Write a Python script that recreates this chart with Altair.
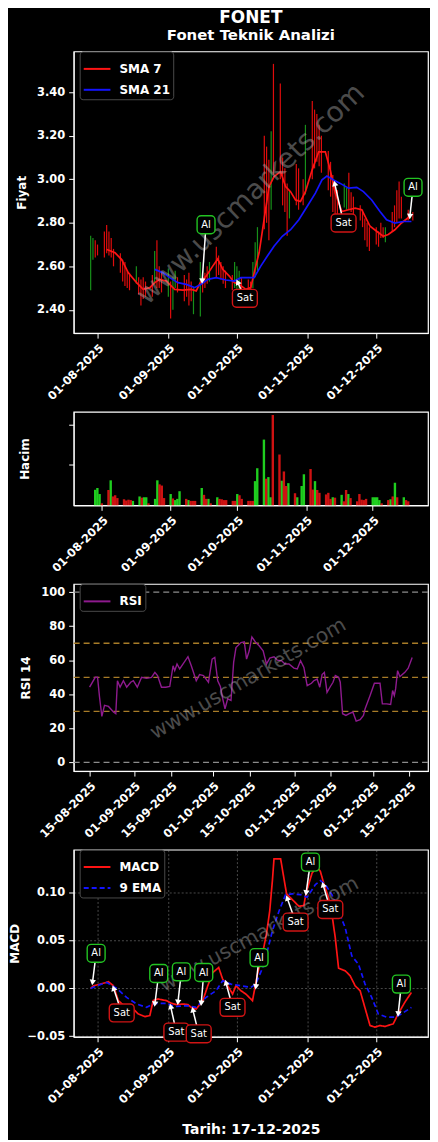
import math
import altair as alt
import pandas as pd

FONT = "DejaVu Sans"

# ---------------- data ----------------
trade_days = [d for d in pd.bdate_range("2025-07-29", "2025-12-17") if d != pd.Timestamp("2025-10-29")]

price_low = [2.49,2.63,2.64,2.65,2.64,2.66,2.65,2.64,2.60,2.57,
             2.53,2.51,2.50,2.49,2.52,2.47,2.42,2.45,2.46,2.46,
             2.52,2.50,2.50,2.48,2.46,2.36,2.40,2.50,2.48,2.44,
             2.46,2.42,2.44,2.38,2.37,2.48,2.50,2.52,2.53,2.55,
             2.56,2.54,2.52,2.50,2.49,2.50,2.48,2.49,2.47,2.47,
             2.46,2.50,2.55,2.58,2.77,2.80,2.72,2.86,3.02,3.00,
             2.88,2.85,2.74,2.82,2.88,2.86,2.88,2.93,3.00,3.05,
             3.08,3.06,3.03,2.95,2.92,2.85,2.84,2.83,2.87,2.86,
             2.86,2.85,2.78,2.81,2.78,2.72,2.69,2.67,2.70,2.69,
             2.73,2.73,2.71,2.76,2.78,2.80,2.82,2.82,2.81,2.82,
             2.81]
price_high = [2.74,2.73,2.72,2.70,2.76,2.79,2.76,2.73,2.68,2.66,
              2.63,2.62,2.58,2.57,2.60,2.55,2.54,2.55,2.53,2.56,
              2.67,2.72,2.60,2.58,2.59,2.53,2.55,2.58,2.55,2.56,
              2.54,2.57,2.53,2.50,2.62,2.55,2.57,2.60,2.62,2.69,
              2.65,2.62,2.60,2.58,2.56,2.62,2.60,2.58,2.55,2.54,
              2.53,2.62,2.71,2.78,3.20,3.15,3.09,3.22,3.53,3.44,
              3.10,3.05,2.98,2.95,3.07,3.05,3.00,3.25,3.36,3.32,
              3.30,3.25,3.20,3.13,3.08,3.02,2.97,2.95,2.98,2.96,
              3.03,2.94,2.92,2.88,2.86,2.82,2.80,2.78,2.78,2.76,
              2.80,2.78,2.78,2.85,2.88,2.95,2.99,2.92,2.86,2.86,
              2.85]
price_up = [1,1,0,0,0,0,0,0,0,0,
            0,0,0,0,1,0,0,0,0,0,
            1,0,0,0,1,0,1,1,0,0,
            0,0,0,1,1,0,0,0,1,0,
            0,0,0,0,0,1,1,1,0,0,
            0,1,1,1,0,0,0,1,0,0,
            0,0,0,1,0,0,0,1,0,0,
            0,0,0,0,0,0,0,0,1,1,
            0,0,0,0,0,0,0,0,0,0,
            0,0,1,0,0,0,0,0,0,1,
            0]
volume = [0.385,0.43,0.28,0.05,0.38,0.62,0.22,0.25,0.18,0.15,
          0.12,0.14,0.13,0.11,0.22,0.19,0.2,0.2,0.05,0.16,
          0.62,0.52,0.49,0.18,0.28,0.17,0.13,0.16,0.35,0.16,
          0.13,0.11,0.11,0.11,0.43,0.26,0.16,0.16,0.05,0.2,
          0.16,0.15,0.13,0.13,0.11,0.11,0.28,0.25,0.16,0.11,
          0.11,0.11,0.6,0.92,1.63,0.66,0.7,0.2,2.24,1.26,
          0.61,0.84,0.48,0.55,0.3,0.2,0.48,0.77,0.9,0.39,
          0.6,0.38,0.31,0.27,0.31,0.16,0.2,0.19,0.26,0.1,
          0.38,0.28,0.18,0.1,0.28,0.14,0.13,0.16,0.2,0.2,
          0.2,0.13,0.05,0.13,0.15,0.22,0.56,0.2,0.2,0.13,
          0.1]
volume_up = [1,1,1,0,0,1,0,0,0,0,
             0,0,0,1,1,0,1,1,0,1,
             1,0,0,0,1,0,1,1,1,0,
             1,0,0,0,1,0,0,1,0,1,
             0,0,0,0,0,0,1,0,0,0,
             0,0,1,1,1,0,1,1,0,0,
             1,0,0,1,0,1,1,1,0,0,
             1,0,0,0,0,0,1,0,1,0,
             0,1,0,0,0,0,0,0,1,1,
             1,1,0,0,1,0,1,0,1,0,
             0]

# days counted from 01-08-2025
sma7_day = [4.06,7.68,10.58,13.48,17.10,20.0,22.9,25.07,27.25,30.14,33.77,37.39,41.01,43.19,45.36,47.54,
            50.43,52.61,54.78,57.68,59.86,62.03,64.93,67.10,68.55,70.72,72.9,75.07,77.25,80.14,82.32,84.49,
            86.67,88.84,91.01,93.91,96.81,99.71,101.88,104.06,106.96,109.86,112.75,115.65,119.28,122.17,
            125.07,127.25,130.14,133.04,136.67]
sma7_val = [2.677,2.662,2.631,2.570,2.525,2.494,2.502,2.525,2.540,2.532,2.494,2.491,2.494,2.487,2.532,2.555,
            2.601,2.634,2.586,2.555,2.525,2.517,2.494,2.502,2.570,2.662,2.814,2.966,3.012,3.035,2.966,2.943,
            2.905,2.898,2.943,3.042,3.126,3.126,3.042,2.936,2.852,2.860,2.867,2.860,2.784,2.761,
            2.738,2.746,2.768,2.799,2.829]
sma21_day = [25.07,28.70,31.59,35.22,38.84,42.46,45.36,48.26,51.88,56.23,59.86,62.75,66.38,68.55,71.45,
             74.35,77.25,80.87,84.49,88.12,91.74,95.36,98.26,100.43,103.33,106.23,109.86,113.48,116.38,
             120.0,123.62,126.52,130.14,133.77,137.39]
sma21_val = [2.586,2.570,2.548,2.525,2.517,2.502,2.517,2.540,2.548,2.537,2.532,2.548,2.548,2.548,2.601,
             2.647,2.692,2.738,2.768,2.814,2.875,2.936,2.997,3.015,2.997,2.981,2.959,2.963,2.943,
             2.905,2.852,2.814,2.799,2.806,2.806]

# days counted from 15-08-2025
rsi_day = [0,2.16,3.04,3.80,4.68,5.69,7.21,9.10,9.99,10.62,
           11.63,12.89,14.15,15.67,16.68,18.19,19.84,21.73,23.62,24.89,
           25.90,27.41,29.05,30.57,31.83,32.46,33.34,34.36,37.51,38.78,
           40.67,41.93,43.43,45.33,46.72,47.73,48.86,49.87,50.76,51.64,
           52.66,53.92,54.93,55.82,57.71,58.98,59.86,60.87,61.88,63.40,
           64.66,66.17,67.44,68.70,70.34,71.60,73.24,74.51,76.02,77.92,
           79.19,80.45,81.71,82.97,84.61,85.49,86.76,87.77,88.65,89.53,
           90.54,91.81,92.82,93.70,94.96,95.59,96.47,97.74,99.00,100.39,
           101.65,103.17,104.43,105.06,106.96,108.60,110.74,111.63,113.28,114.79,
           115.55,116.19,116.69,117.44,118.33,120.22,121.48,123.00]
rsi_val = [44.2,50,50,38.3,27.0,33.5,32.9,29.6,28.6,48,
           44.2,48,44.2,47.1,48,44.2,50,49.4,50,52.9,
           51,44.2,44.2,44.6,56.8,53.9,57.8,54.9,62.1,56.8,
           48,51.6,51,47.1,60.7,61.7,48,44.6,37.4,31.5,
           37.4,36.4,58.8,67.5,70.4,70.8,60.7,65.6,73.7,70.4,
           68.5,65.6,57.8,61.3,62.1,60.1,59.7,57.8,57.8,55.4,
           54.9,59.7,55.8,45.1,46.5,48,49,44.2,51.6,52.9,
           41.2,44.6,47.1,51,50,47.1,28.6,27.6,28.6,29.6,
           24.3,25.1,27.6,31.5,39.3,46.5,46.5,34.4,34.4,34,
           42.2,39.3,43.2,53.9,50.4,52.9,55.4,61.7]

# days counted from 01-08-2025
macd_day = [-3.0,-1.74,1.16,4.78,6.96,9.13,12.03,14.93,17.83,20.72,
            22.90,24.35,26.52,27.97,30.14,32.32,34.49,37.39,39.57,41.01,
            43.19,46.09,48.26,50.43,53.04,54.78,56.96,59.13,60.58,62.75,
            64.93,67.83,70.0,72.17,73.91,75.36,76.52,77.25,80.14,81.59,
            82.75,85.22,88.12,90.29,91.30,93.91,96.09,97.54,98.99,101.16,
            102.61,104.06,105.51,108.41,110.58,112.75,114.93,116.38,119.28,121.45,
            123.62,125.80,127.97,129.42,131.59,134.49,137.39]
macd_val = [0,0.0028,0.0045,0.0069,0.0028,-0.0128,-0.019,-0.0198,-0.0267,-0.0295,
            -0.0284,-0.0128,-0.011,-0.0118,-0.0128,-0.0156,-0.017,-0.0163,-0.017,-0.0198,
            -0.0215,-0.0128,0.0028,0.0166,0.0218,0.0097,0.0028,-0.0059,0.0028,-0.0024,
            -0.0059,-0.0128,0.0149,0.0357,0.0565,0.0807,0.112,0.1355,0.1355,0.115,
            0.0988,0.0929,0.0859,0.0866,0.0998,0.1206,0.1275,0.1223,0.110,0.0946,
            0.0773,0.053,0.0211,0.0184,0.0132,0.0028,-0.0024,-0.0146,-0.0388,-0.0405,
            -0.0388,-0.0398,-0.0381,-0.0371,-0.0267,-0.0146,-0.0042]
signal_day = [-3.0,-0.29,4.06,8.41,12.75,17.10,21.45,25.07,30.14,33.77,
              38.84,43.19,47.54,51.88,54.78,58.41,62.75,67.10,69.28,72.90,
              76.52,79.42,82.32,85.22,88.84,91.74,95.36,97.54,99.71,102.61,
              105.51,108.41,111.30,114.20,117.10,120.0,122.90,126.52,130.14,133.04,
              137.39]
signal_val = [0,0.0028,0.0062,0,-0.0094,-0.0163,-0.0198,-0.0156,-0.0156,-0.019,
              -0.018,-0.0198,-0.0094,-0.0024,0.008,0.0045,0.0028,0.001,0.0045,0.0253,
              0.06,0.0807,0.098,0.0988,0.098,0.0953,0.1085,0.1126,0.1085,0.098,
              0.0807,0.0634,0.034,0.0253,0.0045,-0.0094,-0.0267,-0.0301,-0.0301,-0.0267,
              -0.0198]

# signal annotations: label, box (day, value), arrow tip (day, value)
price_note_kind = ["Al", "Sat", "Sat", "Al"]
price_note_bday = [47.5, 64.5, 107.7, 138.1]
price_note_bval = [2.791, 2.453, 2.799, 2.963]
price_note_tday = [45.8, 61.3, 103.8, 136.7]
price_note_tval = [2.532, 2.528, 2.981, 2.829]

macd_note_kind = ["Al", "Sat", "Al", "Al", "Al", "Sat", "Sat", "Sat", "Al", "Sat", "Al", "Sat", "Al"]
macd_note_bday = [-0.6, 10.6, 26.8, 36.7, 46.5, 34.5, 44.3, 59.1, 70.7, 86.7, 93.2, 101.9, 133.0]
macd_note_bval = [0.0367, -0.0256, 0.0156, 0.0173, 0.0166, -0.0457, -0.0475, -0.0198, 0.0322, 0.0693, 0.132, 0.0825, 0.0045]
macd_note_tday = [-2.2, 7.0, 25.1, 35.2, 45.4, 32.0, 41.7, 56.2, 69.3, 83.0, 91.3, 98.7, 131.6]
macd_note_tval = [0.0062, 0.0003, -0.0163, -0.0146, -0.0156, -0.0187, -0.0222, 0.0062, 0.0017, 0.0946, 0.0998, 0.1085, -0.0267]

WATERMARK = "www.uscmarkets.com"

# ---------------- layout ----------------
W = 356
H1, H2, H3, H4 = 283, 94, 188, 188
AUG1 = pd.Timestamp("2025-08-01")
AUG15 = pd.Timestamp("2025-08-15")
X_START, X_END = pd.Timestamp("2025-07-21 13:40"), pd.Timestamp("2025-12-23 15:40")
R_START, R_END = pd.Timestamp("2025-08-08 22:30"), pd.Timestamp("2025-12-22 01:00")
Y1 = (2.293, 3.587)
Y2 = (0, 2.32)
Y3 = (-5.08, 104.85)
Y4 = (-0.0506, 0.145)


def on(base, days):
    return [base + pd.Timedelta(days=float(d)) for d in days]


def dt(ts):
    return alt.DateTime(year=ts.year, month=ts.month, date=ts.day, hours=ts.hour, minutes=ts.minute)


def x_axis(values, title=None, grid=False):
    kw = dict(values=[dt(pd.Timestamp(v)) for v in values], format="%d-%m-%Y", labelAngle=315,
              labelAlign="right", labelBaseline="top", labelOverlap=False, labelFlush=False,
              title=title, grid=grid)
    if grid:
        kw.update(gridColor="#9a9a9a", gridDash=[2, 2], gridWidth=0.6, gridOpacity=0.8)
    if title:
        kw.update(titleFontSize=14, titlePadding=17)
    return alt.Axis(**kw)


def y_axis(title, tx, values, fmt=None, labels=True, grid=False):
    kw = dict(values=values, title=title, titleX=tx, titleAngle=270, titleAlign="center",
              titleBaseline="middle", labels=labels, grid=grid)
    if fmt:
        kw["format"] = fmt
    if grid:
        kw.update(gridColor="#9a9a9a", gridDash=[2, 2], gridWidth=0.6, gridOpacity=0.8)
    return alt.Axis(**kw)


def legend():
    return alt.Legend(orient="none", legendX=6, legendY=0, title=None, fillColor="black", strokeColor="#4a4a4a",
                      padding=3, cornerRadius=3, labelColor="white", labelFont=FONT, labelFontSize=12,
                      labelFontWeight="bold", symbolType="stroke", symbolStrokeWidth=2, symbolSize=720,
                      rowPadding=0, labelOffset=8)


month_ticks = ["2025-08-01", "2025-09-01", "2025-10-01", "2025-11-01", "2025-12-01"]
half_ticks = ["2025-08-15", "2025-09-01", "2025-09-15", "2025-10-01", "2025-10-15",
              "2025-11-01", "2025-11-15", "2025-12-01", "2025-12-15"]

xs_main = alt.Scale(domain=[dt(X_START), dt(X_END)], nice=False)
xs_rsi = alt.Scale(domain=[dt(R_START), dt(R_END)], nice=False)
px_per_day = W / ((X_END - X_START).total_seconds() / 86400)


def notes(kind, bday, bval, tday, tval, xs, ys, XA, YA, sy):
    rows = []
    for k, bd, bv, td, tv in zip(kind, bday, bval, tday, tval):
        dx = (td - bd) * px_per_day
        dy = -(tv - bv) * sy
        ang = math.degrees(math.atan2(dx, -dy)) % 360
        rows.append(dict(kind=k, bx=AUG1 + pd.Timedelta(days=bd), by=bv,
                         tx=AUG1 + pd.Timedelta(days=td), ty=tv, ang=ang))
    df = pd.DataFrame(rows)
    X = lambda f: alt.X(f + ":T", scale=xs, axis=XA)
    Y = lambda f: alt.Y(f + ":Q", scale=ys, axis=YA)
    layers = [
        alt.Chart(df).mark_rule(color="white", strokeWidth=1.5).encode(x=X("bx"), y=Y("by"), x2="tx:T", y2="ty:Q"),
        alt.Chart(df).mark_point(shape="triangle-up", filled=True, color="white", opacity=1, size=40)
        .encode(x=X("tx"), y=Y("ty"), angle=alt.Angle("ang:Q", scale=None)),
    ]
    for k, half_w, col in (("Al", 9, "#22c322"), ("Sat", 12.5, "#d01414")):
        sub = df[df.kind == k]
        if len(sub):
            layers.append(alt.Chart(sub).mark_rect(fill="black", stroke=col, strokeWidth=1.4, cornerRadius=4,
                                                   xOffset=-half_w, x2Offset=half_w, yOffset=-9, y2Offset=9)
                          .encode(x=X("bx"), x2="bx:T", y=Y("by"), y2="by:Q"))
    layers.append(alt.Chart(df).mark_text(color="white", fontSize=10, font=FONT, align="center", baseline="middle")
                  .encode(x=X("bx"), y=Y("by"), text="kind:N"))
    return layers


def watermark(date, val, xs, ys, XA, YA, size, angle):
    df = pd.DataFrame({"d": [date], "v": [val]})
    return alt.Chart(df).mark_text(text=WATERMARK, font=FONT, fontSize=size, angle=angle, color="#b4b4b4",
                                   opacity=0.42, align="center", baseline="middle").encode(
        x=alt.X("d:T", scale=xs, axis=XA), y=alt.Y("v:Q", scale=ys, axis=YA))


# ---------------- panel 1: price ----------------
price = pd.DataFrame({"date": trade_days, "low": price_low, "high": price_high, "up": price_up})
XA1 = x_axis(month_ticks)
ys1 = alt.Scale(domain=list(Y1), nice=False, zero=False)
YA1 = y_axis("Fiyat", -52, [2.4, 2.6, 2.8, 3.0, 3.2, 3.4], ".2f")
rules_up = alt.Chart(price[price.up == 1]).mark_rule(color="#17901a", strokeWidth=1.2).encode(
    x=alt.X("date:T", scale=xs_main, axis=XA1), y=alt.Y("low:Q", scale=ys1, axis=YA1), y2="high:Q")
rules_dn = alt.Chart(price[price.up == 0]).mark_rule(color="#e00c0c", strokeWidth=1.2).encode(
    x=alt.X("date:T", scale=xs_main, axis=XA1), y=alt.Y("low:Q", scale=ys1, axis=YA1), y2="high:Q")
sma = pd.concat([
    pd.DataFrame({"date": on(AUG1, sma7_day), "v": sma7_val, "s": "SMA 7"}),
    pd.DataFrame({"date": on(AUG1, sma21_day), "v": sma21_val, "s": "SMA 21"}),
])
sma_lines = alt.Chart(sma).mark_line(strokeWidth=1.7).encode(
    x=alt.X("date:T", scale=xs_main, axis=XA1), y=alt.Y("v:Q", scale=ys1, axis=YA1),
    color=alt.Color("s:N", scale=alt.Scale(domain=["SMA 7", "SMA 21"], range=["#ff1414", "#1414ff"]), legend=legend()))
p1 = alt.layer(
    rules_up, rules_dn, sma_lines,
    watermark(AUG1 + pd.Timedelta(days=67.3), 2.93, xs_main, ys1, XA1, YA1, 28, 316),
    *notes(price_note_kind, price_note_bday, price_note_bval, price_note_tday, price_note_tval,
           xs_main, ys1, XA1, YA1, H1 / (Y1[1] - Y1[0])),
).properties(width=W, height=H1, title=alt.TitleParams(
    text="FONET", subtitle="Fonet Teknik Analizi", font=FONT, subtitleFont=FONT, fontSize=17, subtitleFontSize=15,
    fontWeight="bold", subtitleFontWeight="bold", color="white", subtitleColor="white", anchor="middle",
    offset=7, subtitlePadding=1))

# ---------------- panel 2: volume ----------------
vol = pd.DataFrame({"date": trade_days, "v": volume, "up": volume_up})
XA2 = x_axis(month_ticks)
ys2 = alt.Scale(domain=list(Y2), nice=False)
YA2 = y_axis("Hacim", -49, [1, 2], labels=False)
bars_up = alt.Chart(vol[vol.up == 1]).mark_bar(size=2.4, color="#22e022", opacity=0.92).encode(
    x=alt.X("date:T", scale=xs_main, axis=XA2), y=alt.Y("v:Q", scale=ys2, axis=YA2))
bars_dn = alt.Chart(vol[vol.up == 0]).mark_bar(size=2.4, color="#e01414", opacity=0.92).encode(
    x=alt.X("date:T", scale=xs_main, axis=XA2), y=alt.Y("v:Q", scale=ys2, axis=YA2))
p2 = alt.layer(bars_up, bars_dn).properties(width=W, height=H2)

# ---------------- panel 3: RSI ----------------
XA3 = x_axis(half_ticks)
ys3 = alt.Scale(domain=list(Y3), nice=False, zero=False)
YA3 = y_axis("RSI 14", -48, [0, 20, 40, 60, 80, 100])
ref_gray = pd.DataFrame({"y": [0, 100]})
ref_gold = pd.DataFrame({"y": [30, 50, 70]})
rg = alt.Chart(ref_gray).mark_rule(color="#8c8c8c", strokeDash=[6, 4], strokeWidth=1.3).encode(
    y=alt.Y("y:Q", scale=ys3, axis=YA3))
ro = alt.Chart(ref_gold).mark_rule(color="#a87c28", strokeDash=[6, 4], strokeWidth=1.3).encode(
    y=alt.Y("y:Q", scale=ys3, axis=YA3))
rsi = pd.DataFrame({"date": on(AUG15, rsi_day), "v": rsi_val, "s": "RSI"})
rsi_line = alt.Chart(rsi).mark_line(strokeWidth=1.4).encode(
    x=alt.X("date:T", scale=xs_rsi, axis=XA3), y=alt.Y("v:Q", scale=ys3, axis=YA3),
    color=alt.Color("s:N", scale=alt.Scale(domain=["RSI"], range=["#8e1a8e"]), legend=legend()))
p3 = alt.layer(
    rg, ro, rsi_line,
    watermark(AUG15 + pd.Timedelta(days=60.5), 49.0, xs_rsi, ys3, XA3, YA3, 20.5, 330),
).properties(width=W, height=H3)

# ---------------- panel 4: MACD ----------------
XA4 = x_axis(month_ticks, title="Tarih: 17-12-2025", grid=True)
ys4 = alt.Scale(domain=list(Y4), nice=False, zero=False)
YA4 = y_axis("MACD", -59, [-0.05, 0.0, 0.05, 0.10], ".2f", grid=True)
macd = pd.concat([
    pd.DataFrame({"date": on(AUG1, macd_day), "v": macd_val, "s": "MACD"}),
    pd.DataFrame({"date": on(AUG1, signal_day), "v": signal_val, "s": "9 EMA"}),
])
leg4 = legend()
macd_lines = alt.Chart(macd).mark_line(strokeWidth=1.7).encode(
    x=alt.X("date:T", scale=xs_main, axis=XA4), y=alt.Y("v:Q", scale=ys4, axis=YA4),
    color=alt.Color("s:N", scale=alt.Scale(domain=["MACD", "9 EMA"], range=["#ff1414", "#1414ff"]), legend=leg4),
    strokeDash=alt.StrokeDash("s:N", scale=alt.Scale(domain=["MACD", "9 EMA"], range=[[1, 0], [5, 3]]), legend=leg4))
p4 = alt.layer(
    macd_lines,
    watermark(AUG1 + pd.Timedelta(days=70.7), 0.0564, xs_main, ys4, XA4, YA4, 20.5, 332),
    *notes(macd_note_kind, macd_note_bday, macd_note_bval, macd_note_tday, macd_note_tval,
           xs_main, ys4, XA4, YA4, H4 / (Y4[1] - Y4[0])),
).properties(width=W, height=H4)

chart = alt.vconcat(p1, p2, p3, p4, spacing=79, bounds="flush").resolve_scale(
    color="independent", strokeDash="independent"
).properties(
    background="black", padding={"left": 0, "top": -3, "right": 0, "bottom": 0}
).configure_view(stroke="white", strokeWidth=1.2).configure_axis(
    labelFont=FONT, labelFontSize=11.5, labelFontWeight="bold", labelColor="white",
    titleFont=FONT, titleFontSize=12, titleFontWeight="bold", titleColor="white",
    tickColor="white", domainColor="white", tickSize=5, labelPadding=4, tickWidth=1)

chart.save("out.html", embed_options={"renderer": "svg", "actions": False})
